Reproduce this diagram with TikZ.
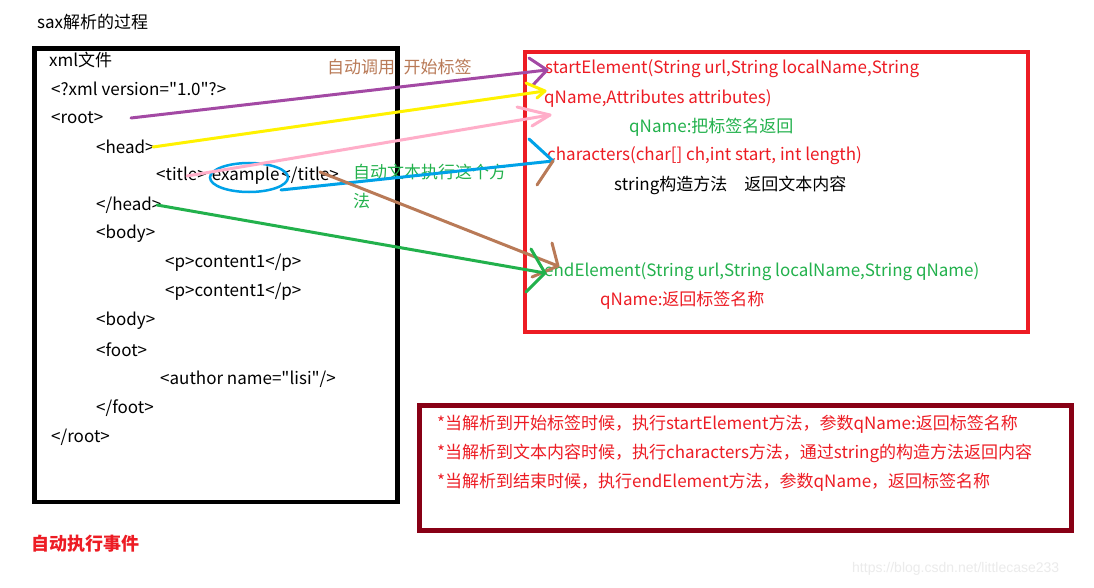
\documentclass[tikz,border=0pt]{standalone}
\usepackage{fontspec}
\setmainfont{Noto Sans CJK SC}[Ligatures=TeXOff]
\newfontfamily\wmfont{Liberation Sans}
\definecolor{sred}{HTML}{ED1C24}
\definecolor{dred}{HTML}{880015}
\definecolor{apurple}{HTML}{A349A4}
\definecolor{ayellow}{HTML}{FFF200}
\definecolor{apink}{HTML}{FFAEC9}
\definecolor{ablue}{HTML}{00A2E8}
\definecolor{abrown}{HTML}{B97A57}
\definecolor{agreen}{HTML}{22B14C}
\begin{document}
\begin{tikzpicture}[x=1pt,y=-1pt,
  txt/.style={anchor=west,inner sep=0pt,font=\fontsize{17}{20}\selectfont},
  frame/.style={draw,anchor=north west,inner sep=0pt},
  hand/.style={line width=3pt,line cap=round,line join=round}]
\useasboundingbox[fill=white] (0,0) rectangle (1094,588);

% frames
\node[frame,line width=4.5pt,minimum width=363pt,minimum height=453pt] (xmlbox) at (32,46.5) {};
\node[frame,draw=sred,line width=4pt,minimum width=503pt,minimum height=280pt] (redbox) at (523,50) {};
\node[frame,draw=dred,line width=5pt,minimum width=652pt,minimum height=125pt] (notebox) at (417,403) {};

% titles
\node[txt] (title) at (37,22) {sax解析的过程};
\node[txt,text=sred,font=\fontsize{18}{20}\selectfont\bfseries] (auto) at (31,544) {自动执行事件};

% xml lines
\node[txt] (l0) at (49,60) {xml文件};
\node[txt] (l1) at (51,89) {<?xml version="1.0"?>};
\node[txt] (l2) at (51,118) {<root>};
\node[txt] (l3) at (96,147) {<head>};
\node[txt] (l4) at (156,176) {<title>\hspace{5pt}example\hspace{2pt}</title>};
\node[txt] (l5) at (96,205) {</head>};
\node[txt] (l6) at (96,234) {<body>};
\node[txt] (l7) at (165,263) {<p>content1</p>};
\node[txt] (l8) at (165,292) {<p>content1</p>};
\node[txt] (l9) at (96,321) {<body>};
\node[txt] (l10) at (96,350) {<foot>};
\node[txt] (l11) at (160,379) {<author name="lisi"/>};
\node[txt] (l12) at (96,408) {</foot>};
\node[txt] (l13) at (51,437) {</root>};

% red box text
\node[txt,text=sred] (r1) at (545,69) {startElement(String url,String localName,String};
\node[txt,text=sred] (r2) at (544,98) {qName,Attributes attributes)};
\node[txt,text=agreen] (r3) at (629,127) {qName:把标签名返回};
\node[txt,text=sred] (r4) at (547,156) {characters(char[] ch,int start, int length)};
\node[txt] (r5) at (614,185) {string构造方法\hspace{1em}返回文本内容};
\node[txt,text=agreen] (r6) at (544,272) {endElement(String url,String localName,String qName)};
\node[txt,text=sred] (r7) at (600,300) {qName:返回标签名称};

% notes
\node[txt,text=sred] (n1) at (437,424) {*当解析到开始标签时候，执行startElement方法，参数qName:返回标签名称};
\node[txt,text=sred] (n2) at (437,453) {*当解析到文本内容时候，执行characters方法，通过string的构造方法返回内容};
\node[txt,text=sred] (n3) at (437,482) {*当解析到结束时候，执行endElement方法，参数qName，返回标签名称};

% annotations
\node[txt,text=abrown] (c1) at (327,67) {自动调用\hspace{0.5em}开始标签};
\node[txt,text=agreen] (c2) at (353,172) {自动文本执行这个方};
\node[txt,text=agreen] (c3) at (353,201) {法};

% watermark
\node[anchor=west,inner sep=0pt,text=black!8,font=\wmfont\fontsize{14}{16}\selectfont] (wm) at (852,569) {https://blog.csdn.net/littlecase233};

% ellipse around example
\draw[ablue,line width=2.5pt] (249,177.5) ellipse [x radius=39, y radius=14.5];

% connector end points
\coordinate (pS) at (131,118);  \coordinate (pE) at (547,70);
\coordinate (pA) at (529,58);   \coordinate (pB) at (533,85);
\coordinate (yS) at (153,147);  \coordinate (yE) at (545,91);
\coordinate (yA) at (526,83);   \coordinate (yB) at (537,98);
\coordinate (kS) at (187,176);  \coordinate (kE) at (550,115);
\coordinate (kA) at (517,107);  \coordinate (kB) at (532,126);
\coordinate (bS) at (281,190);  \coordinate (bE) at (553,161);
\coordinate (bA) at (529,139);
\coordinate (wS) at (320,172);  \coordinate (wE) at (558,266);
\coordinate (wA) at (552,243);  \coordinate (wB) at (532,277);
\coordinate (wC) at (537,185);
\coordinate (gS) at (157,205);  \coordinate (gE) at (545,273);
\coordinate (gA) at (531,249);  \coordinate (gB) at (526,292);

% connectors
\draw[hand,apurple] (pS) -- (pE);
\draw[hand,apurple] (pA) -- (pE) -- (pB);
\draw[hand,ayellow] (yS) -- (yE);
\draw[hand,ayellow] (yA) -- (yE) -- (yB);
\draw[hand,apink] (kS) -- (kE);
\draw[hand,apink] (kA) -- (kE) -- (kB);
\draw[hand,ablue] (bS) -- (bE);
\draw[hand,ablue] (bA) -- (bE);
\draw[hand,abrown] (wC) -- (bE);
\draw[hand,abrown] (wS) -- (wE);
\draw[hand,abrown] (wA) -- (wE) -- (wB);
\draw[hand,agreen] (gS) -- (gE);
\draw[hand,agreen] (gA) -- (gE) -- (gB);
\end{tikzpicture}
\end{document}
